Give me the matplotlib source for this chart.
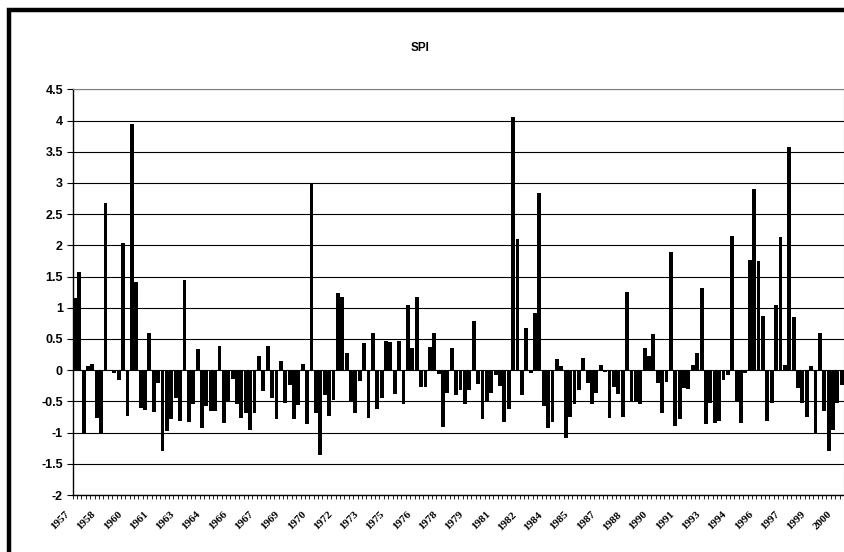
import matplotlib
matplotlib.use('Agg')
import matplotlib.pyplot as plt
from matplotlib.patches import Rectangle
from matplotlib.transforms import offset_copy

# SPI values, one per quarter, 1957 - 2000
spi = [1.15, 1.57, -1.03, 0.06, 0.10, -0.77, -1.03, 2.68, 0.00, -0.05,
       -0.15, 2.03, -0.73, 3.94, 1.41, -0.61, -0.64, 0.60, -0.67, -0.21,
       -1.30, -0.98, -0.78, -0.45, -0.82, 1.45, -0.83, -0.55, 0.34, -0.93,
       -0.58, -0.65, -0.65, 0.38, -0.85, -0.50, -0.14, -0.55, -0.77, -0.69,
       -0.96, -0.69, 0.22, -0.33, 0.38, -0.44, -0.79, 0.14, -0.53, -0.23,
       -0.78, -0.56, 0.10, -0.86, 2.99, -0.69, -1.36, -0.40, -0.73, -0.47,
       1.24, 1.17, 0.28, -0.50, -0.69, -0.18, 0.44, -0.77, 0.60, -0.62,
       -0.45, 0.46, 0.45, -0.38, 0.46, -0.54, 1.04, 0.36, 1.18, -0.27,
       -0.27, 0.37, 0.59, -0.06, -0.91, -0.36, 0.35, -0.39, -0.31, -0.55,
       -0.32, 0.78, -0.22, -0.78, -0.50, -0.36, -0.07, -0.25, -0.83, -0.63,
       4.05, 2.10, -0.39, 0.67, -0.05, 0.92, 2.84, -0.57, -0.92, -0.83,
       0.18, 0.07, -1.08, -0.75, -0.54, -0.32, 0.19, -0.20, -0.54, -0.37,
       0.09, -0.03, -0.76, -0.27, -0.38, -0.75, 1.25, -0.50, -0.50, -0.54,
       0.35, 0.23, 0.58, -0.21, -0.68, -0.19, 1.90, -0.90, -0.78, -0.29,
       -0.30, 0.09, 0.28, 1.32, -0.86, -0.52, -0.84, -0.81, -0.16, -0.07,
       2.15, -0.50, -0.85, -0.05, 1.77, 2.90, 1.75, 0.87, -0.82, -0.52,
       1.05, 2.13, 0.08, 3.58, 0.85, -0.29, -0.53, -0.75, 0.07, -1.00,
       0.59, -0.66, -1.30, -0.96, -0.53, -0.23]

first_year = 1957
label_step = 6
years = [str(first_year + (i * 3) // 12) for i in range(len(spi))]
y_ticks = [-2, -1.5, -1, -0.5, 0, 0.5, 1, 1.5, 2, 2.5, 3, 3.5, 4, 4.5]

fig = plt.figure(figsize=(8.45, 5.52), dpi=100)
W, H = 845, 552

# chart area border (excel style)
fig.patches.append(Rectangle((9.5 / W, -0.1), 1.2, 1 - 9.5 / H + 0.1,
                             transform=fig.transFigure, fill=False,
                             edgecolor='black', linewidth=3.2))

ax = fig.add_axes([72.7 / W, (H - 495) / H, (844 - 72.7) / W, (495 - 89.3) / H])

x = list(range(len(spi)))
ax.bar(x, spi, width=0.88, color='black', linewidth=0, zorder=3)

ax.set_xlim(-0.5, len(spi) - 0.5)
ax.set_ylim(-2, 4.5)
ax.set_yticks(y_ticks)
ax.set_yticklabels([('%g' % v) for v in y_ticks], fontsize=9,
                   fontweight='bold', family='Liberation Sans')
ax.yaxis.grid(True, color='black', linewidth=0.8)
ax.set_axisbelow(True)

pos = list(range(0, len(spi), label_step))
ax.set_xticks(pos)
ax.set_xticklabels([years[p] for p in pos], rotation=45, ha='right',
                   va='center', rotation_mode='anchor', fontsize=8,
                   fontweight='bold', family='Liberation Serif')
ax.set_xticks([i - 0.5 for i in range(len(spi) + 1)], minor=True)
ax.tick_params(axis='x', which='major', length=0, pad=13)
ax.tick_params(axis='x', which='minor', length=3, width=0.6, color='black',
               direction='out')
ax.tick_params(axis='y', length=4, width=0.8, direction='out', pad=3)
for lab in ax.get_xticklabels():
    lab.set_transform(offset_copy(lab.get_transform(), fig=fig, x=-7, y=0,
                                  units='dots'))

for s in ['left', 'bottom']:
    ax.spines[s].set_color('black')
    ax.spines[s].set_linewidth(1.0)
for s in ['top', 'right']:
    ax.spines[s].set_color('#808080')
    ax.spines[s].set_linewidth(0.8)

fig.text(420 / W, 1 - 48 / H, 'SPI', ha='center', va='center', fontsize=8.5,
         fontweight='bold', family='Liberation Sans')

fig.savefig('out.png', dpi=100)
